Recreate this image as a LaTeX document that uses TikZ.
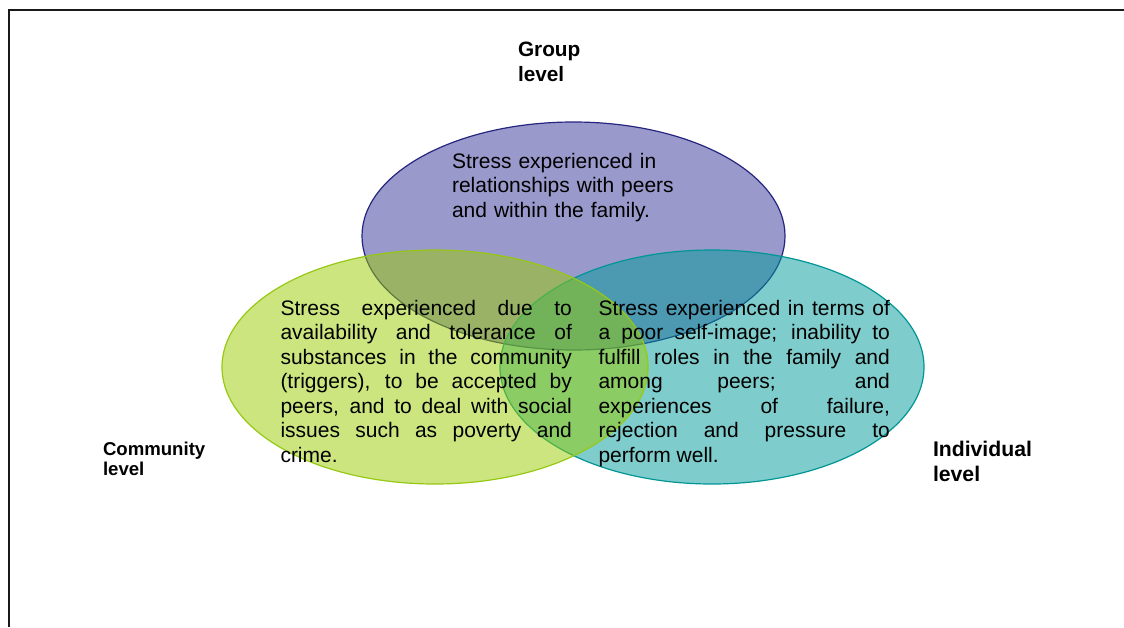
\documentclass[tikz,border=0pt]{standalone}
\usepackage{fontspec}
\setmainfont{Liberation Sans}
\usetikzlibrary{shapes.geometric}

\begin{document}
\begin{tikzpicture}[
    x=0.5pt, y=-0.5pt,
    every node/.style={inner sep=0pt, outer sep=0pt, text=black},
    circ/.style={ellipse, line width=0.6pt, fill opacity=0.5},
    body/.style={font=\fontsize{10.5}{12.25}\selectfont, anchor=base west},
    para/.style={
      body, text width=145.7pt, align=justify,
      execute at begin node={\tolerance=9999 \hyphenpenalty=10000 }
    },
    lvl/.style={anchor=base west, text width=60pt, align=left}
  ]
    \definecolor{groupTone}{RGB}{51,51,153}
    \definecolor{groupLine}{RGB}{38,38,128}
    \definecolor{commTone}{RGB}{153,204,0}
    \definecolor{commLine}{RGB}{150,200,20}
    \definecolor{indTone}{RGB}{0,153,153}
    \definecolor{indLine}{RGB}{0,150,150}

    \useasboundingbox (0,0) rectangle (1124,627);
    \draw[line width=1.4pt, black!90] (1124,10) -- (9,10) -- (9,627);

    \node[circ, draw=groupLine, fill=groupTone, minimum width=211.5pt, minimum height=114pt] (group) at (573.5,236) {};
    \node[circ, draw=indLine, fill=indTone, minimum width=212pt, minimum height=117pt] (individual) at (712,367) {};
    \node[circ, draw=commLine, fill=commTone, minimum width=213pt, minimum height=117pt] (community) at (435,367) {};

    \node[body, text width=130pt, align=left] (groupText) at (452,168.3)
      {Stress experienced in\\relationships with peers\\and within the family.};
    \node[para] (communityText) at (280.5,315)
      {Stress experienced due to\linebreak
       availability and tolerance of\linebreak
       substances in the community\linebreak
       (triggers), to be accepted by\linebreak
       peers, and to deal with social\linebreak
       issues such as poverty and\linebreak
       crime.};
    \node[para] (individualText) at (598.5,315)
      {Stress experienced in terms of\linebreak
       a poor self-image; inability to\linebreak
       fulfill roles in the family and\linebreak
       among peers; and\linebreak
       experiences of failure,\linebreak
       rejection and pressure to\linebreak
       perform well.};

    \node[lvl, font=\bfseries\fontsize{10.4}{12.5}\selectfont] (groupLabel) at (518,56.7) {Group\\level};
    \node[lvl, font=\bfseries\fontsize{9.3}{10.25}\selectfont] (communityLabel) at (103,455) {Community\\level};
    \node[lvl, font=\bfseries\fontsize{10.6}{12.85}\selectfont] (individualLabel) at (933,456) {Individual\\level};
  \end{tikzpicture}
\end{document}
